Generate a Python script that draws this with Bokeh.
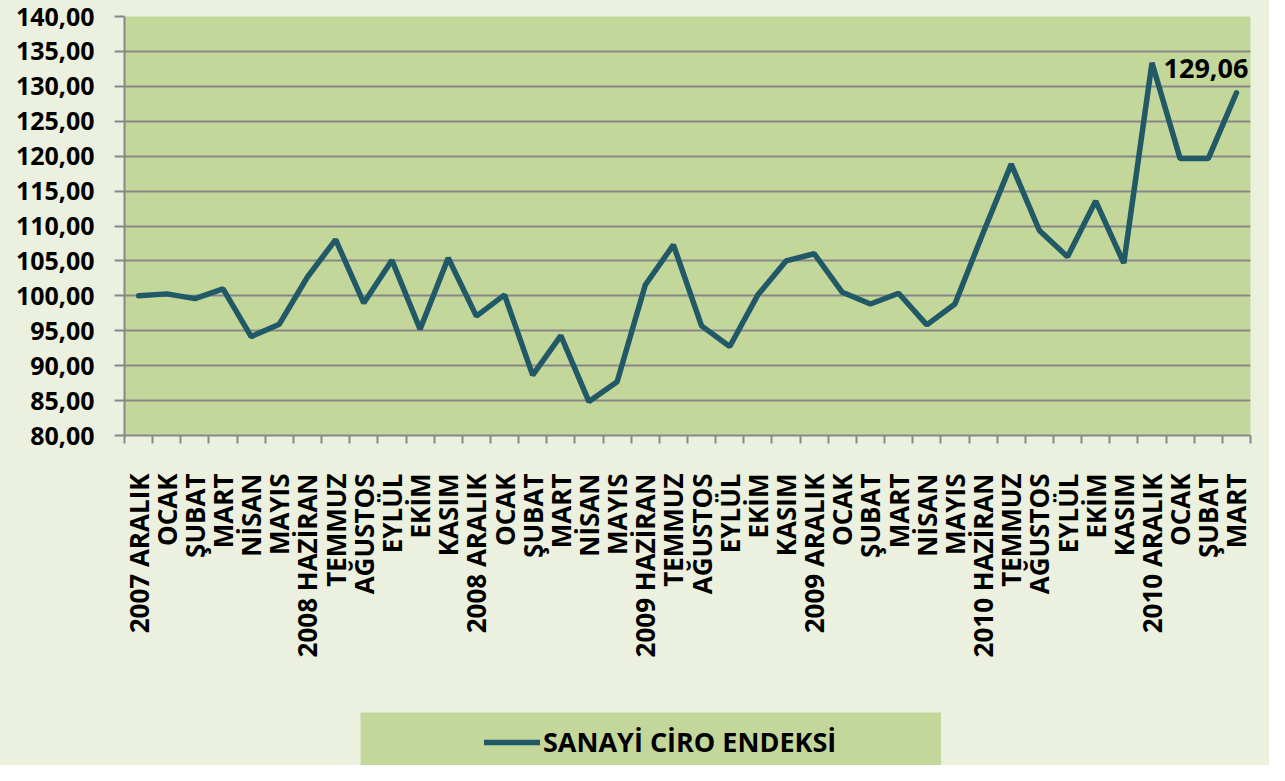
import math
from bokeh.plotting import figure
from bokeh.layouts import column, row
from bokeh.models import (Range1d, FixedTicker, CustomJSTickFormatter, Legend,
                          LegendItem, Label, Spacer)
from bokeh.embed import file_html
from bokeh.resources import INLINE

categories = [
    "2007 ARALIK", "OCAK", "ŞUBAT", "MART", "NİSAN", "MAYIS",
    "2008 HAZİRAN", "TEMMUZ", "AĞUSTOS", "EYLÜL", "EKİM", "KASIM",
    "2008 ARALIK", "OCAK", "ŞUBAT", "MART", "NİSAN", "MAYIS",
    "2009 HAZİRAN", "TEMMUZ", "AĞUSTOS", "EYLÜL", "EKİM", "KASIM",
    "2009 ARALIK", "OCAK", "ŞUBAT", "MART", "NİSAN", "MAYIS",
    "2010 HAZİRAN", "TEMMUZ", "AĞUSTOS", "EYLÜL", "EKİM", "KASIM",
    "2010 ARALIK", "OCAK", "ŞUBAT", "MART",
]
values = [
    100.00, 100.28, 99.60, 101.00, 94.16, 95.94,
    102.70, 108.04, 98.97, 105.10, 95.23, 105.42,
    97.10, 100.14, 88.64, 94.30, 84.86, 87.70,
    101.55, 107.30, 95.70, 92.75, 100.14, 105.00,
    106.03, 100.51, 98.83, 100.37, 95.84, 98.83,
    109.00, 118.86, 109.35, 105.60, 113.57, 104.67,
    133.37, 119.65, 119.65, 129.06,
]
y_ticks = list(range(80, 145, 5))
series_name = "SANAYİ CİRO ENDEKSİ"

x = list(range(len(categories)))

OUTER = "#EBF1DE"
INNER = "#C4D79B"
GREY = "#878787"
LINE = "#215967"
FONT = "Open Sans"

p = figure(width=1269, height=712, output_backend="svg", toolbar_location=None,
           x_range=Range1d(-0.5, len(categories) - 0.5), y_range=Range1d(80, 140),
           min_border_left=124, min_border_right=19, min_border_top=16,
           min_border_bottom=277)
p.background_fill_color = INNER
p.border_fill_color = OUTER
p.outline_line_color = None

# x axis
xa = p.xaxis[0]
xa.ticker = FixedTicker(ticks=x, minor_ticks=[i - 0.5 for i in range(len(categories) + 1)])
xa.formatter = CustomJSTickFormatter(args=dict(labels=categories),
                                     code="return labels[Math.round(tick)] || '';")
xa.major_label_orientation = math.pi / 2
xa.major_tick_line_color = None
xa.major_tick_out = 0
xa.major_tick_in = 0
xa.minor_tick_line_color = GREY
xa.minor_tick_line_width = 2
xa.minor_tick_out = 8
xa.minor_tick_in = 0
xa.axis_line_color = GREY
xa.axis_line_width = 2
xa.major_label_standoff = 30
xa.major_label_text_font = FONT
xa.major_label_text_font_style = "bold"
xa.major_label_text_font_size = "26px"
xa.major_label_text_color = "black"

# y axis
ya = p.yaxis[0]
ya.ticker = FixedTicker(ticks=y_ticks)
ya.formatter = CustomJSTickFormatter(code="return tick.toFixed(2).replace('.', ',');")
ya.major_tick_line_color = GREY
ya.major_tick_line_width = 2
ya.major_tick_out = 10
ya.major_tick_in = 0
ya.minor_tick_line_color = None
ya.axis_line_color = GREY
ya.axis_line_width = 2
ya.major_label_standoff = 20
ya.major_label_text_font = FONT
ya.major_label_text_font_style = "bold"
ya.major_label_text_font_size = "25px"
ya.major_label_text_color = "black"

p.xgrid.grid_line_color = None
p.ygrid.grid_line_color = GREY
p.ygrid.grid_line_width = 2

r = p.line(x, values, line_color=LINE, line_width=5.5, line_cap="round")

last = values[-1]
lbl = Label(x=x[-1], y=last, text=f"{last:.2f}".replace(".", ","),
            x_offset=12, y_offset=24, text_align="right", text_baseline="alphabetic",
            text_font=FONT, text_font_style="bold", text_font_size="27px",
            text_color="black")
p.add_layout(lbl)

# legend panel (green box below the chart)
lg = figure(width=581, height=53, output_backend="svg", toolbar_location=None,
            x_axis_type=None, y_axis_type=None,
            min_border_left=0, min_border_right=0, min_border_top=0,
            min_border_bottom=0)
lg.background_fill_color = INNER
lg.border_fill_color = INNER
lg.outline_line_color = None
lr = lg.line(x, values, line_color=LINE, line_width=5.5, line_cap="round", visible=False)

legend = Legend(items=[LegendItem(label=series_name, renderers=[lr])],
                location=(124, 5), orientation="vertical",
                padding=0, margin=0, spacing=0,
                glyph_width=56, glyph_height=22, label_height=22,
                label_standoff=3, background_fill_alpha=0,
                border_line_color=None, click_policy="none",
                label_text_font=FONT, label_text_font_style="bold",
                label_text_font_size="27px", label_text_color="black")
lg.add_layout(legend)

layout = column(p, row(Spacer(width=360, height=53), lg),
                styles={"background-color": OUTER})

open("out.html", "w").write(file_html(layout, INLINE))
